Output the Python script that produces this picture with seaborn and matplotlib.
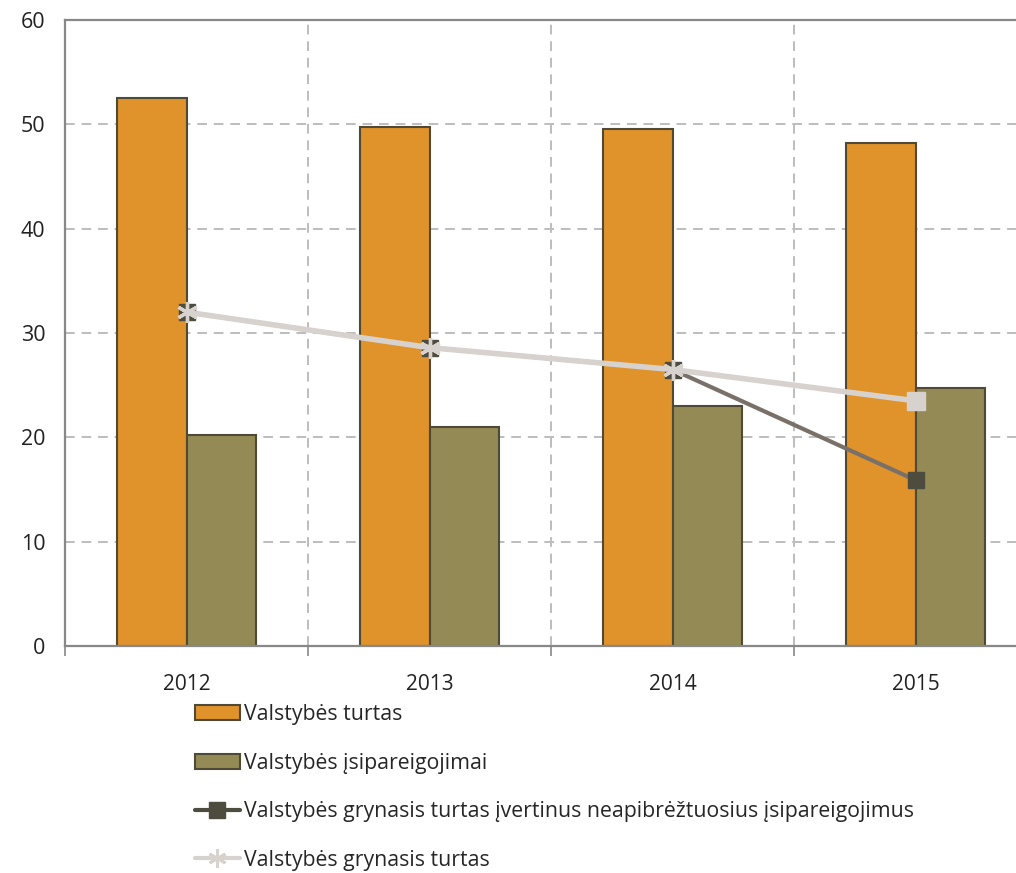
import pandas as pd
import matplotlib.pyplot as plt
import seaborn as sns
from matplotlib.lines import Line2D
from matplotlib.patches import Patch

# Chart values
years = ["2012", "2013", "2014", "2015"]
turtas = [52.5, 49.7, 49.6, 48.2]
isipareigojimai = [20.2, 21.0, 23.0, 24.7]
grynasis_neapibr = [32.0, 28.6, 26.5, 15.9]
grynasis = [32.0, 28.6, 26.5, 23.5]

labels = [
    "Valstybės turtas",
    "Valstybės įsipareigojimai",
    "Valstybės grynasis turtas įvertinus neapibrėžtuosius įsipareigojimus",
    "Valstybės grynasis turtas",
]

orange = "#e0922b"
olive = "#948a55"
edge = "#4f4a35"
dark = "#4e4c3e"
dark_line = "#7a706a"
light = "#d8d2ce"
asterisk = (6, 2, 0)

df = pd.DataFrame({
    "year": years * 2,
    "series": [labels[0]] * 4 + [labels[1]] * 4,
    "value": turtas + isipareigojimai,
})

sns.set_style("white")
plt.rcParams["font.family"] = ["Open Sans", "DejaVu Sans"]

fig = plt.figure(figsize=(10.16, 8.73), dpi=100)
ax = fig.add_axes([65 / 1016, 1 - 646 / 873, (1037 - 65) / 1016, (646 - 20) / 873])

sns.barplot(data=df, x="year", y="value", hue="series", order=years,
            palette=[orange, olive], width=0.576, edgecolor=edge,
            linewidth=1.5, saturation=1, legend=False, ax=ax, zorder=2)

xs = list(range(len(years)))
ax.plot(xs, grynasis_neapibr, color=dark_line, lw=3, marker="s", ms=12,
        mfc=dark, mec=dark, zorder=4)
ax.plot(xs, grynasis, color=light, lw=4, zorder=5)
ax.plot(xs[:-1], grynasis[:-1], ls="none", marker=asterisk, ms=15, mew=2.4,
        mec=light, zorder=6)
ax.plot(xs[-1:], grynasis[-1:], ls="none", marker="s", ms=13, mfc=light, mec=light, zorder=6)

ax.set_xlim(-0.5, 3.5)
ax.set_ylim(0, 60)
ax.set_yticks(range(0, 61, 10))
ax.set_xticks(xs)
ax.set_xticks([-0.5, 0.5, 1.5, 2.5], minor=True)
ax.set_xlabel("")
ax.set_ylabel("")

ax.grid(axis="y", which="major", color="#bdbdbd", ls=(0, (5, 3.5)), lw=1.4, zorder=0)
ax.grid(axis="x", which="minor", color="#bdbdbd", ls=(0, (5, 3.5)), lw=1.4, zorder=0)
ax.set_axisbelow(True)

for side in ["left", "bottom", "top"]:
    ax.spines[side].set_color("#888888")
    ax.spines[side].set_linewidth(1.6)
ax.spines["right"].set_visible(False)

ax.tick_params(axis="x", which="major", length=0, pad=20, labelsize=15, colors="#222222")
ax.tick_params(axis="x", which="minor", length=7, width=1.4, color="#999999", direction="out")
ax.tick_params(axis="y", length=9, width=1.4, color="#999999", pad=5, labelsize=15.5, labelcolor="#222222")
ax.tick_params(bottom=True, which="minor")

handles = [
    Patch(facecolor=orange, edgecolor=edge, linewidth=1.5),
    Patch(facecolor=olive, edgecolor=edge, linewidth=1.5),
    Line2D([], [], color=dark, lw=3, marker="s", ms=11),
    Line2D([], [], color=light, lw=3, marker=asterisk, ms=13, mew=2),
]
fig.legend(handles, labels, loc="upper left", bbox_to_anchor=(195 / 1016, 1 - 704 / 873),
           frameon=False, fontsize=15.3, labelspacing=1.3, handlelength=2.1,
           handleheight=0.7, handletextpad=0.2, borderaxespad=0, borderpad=0)

fig.savefig("out.png", dpi=100)
